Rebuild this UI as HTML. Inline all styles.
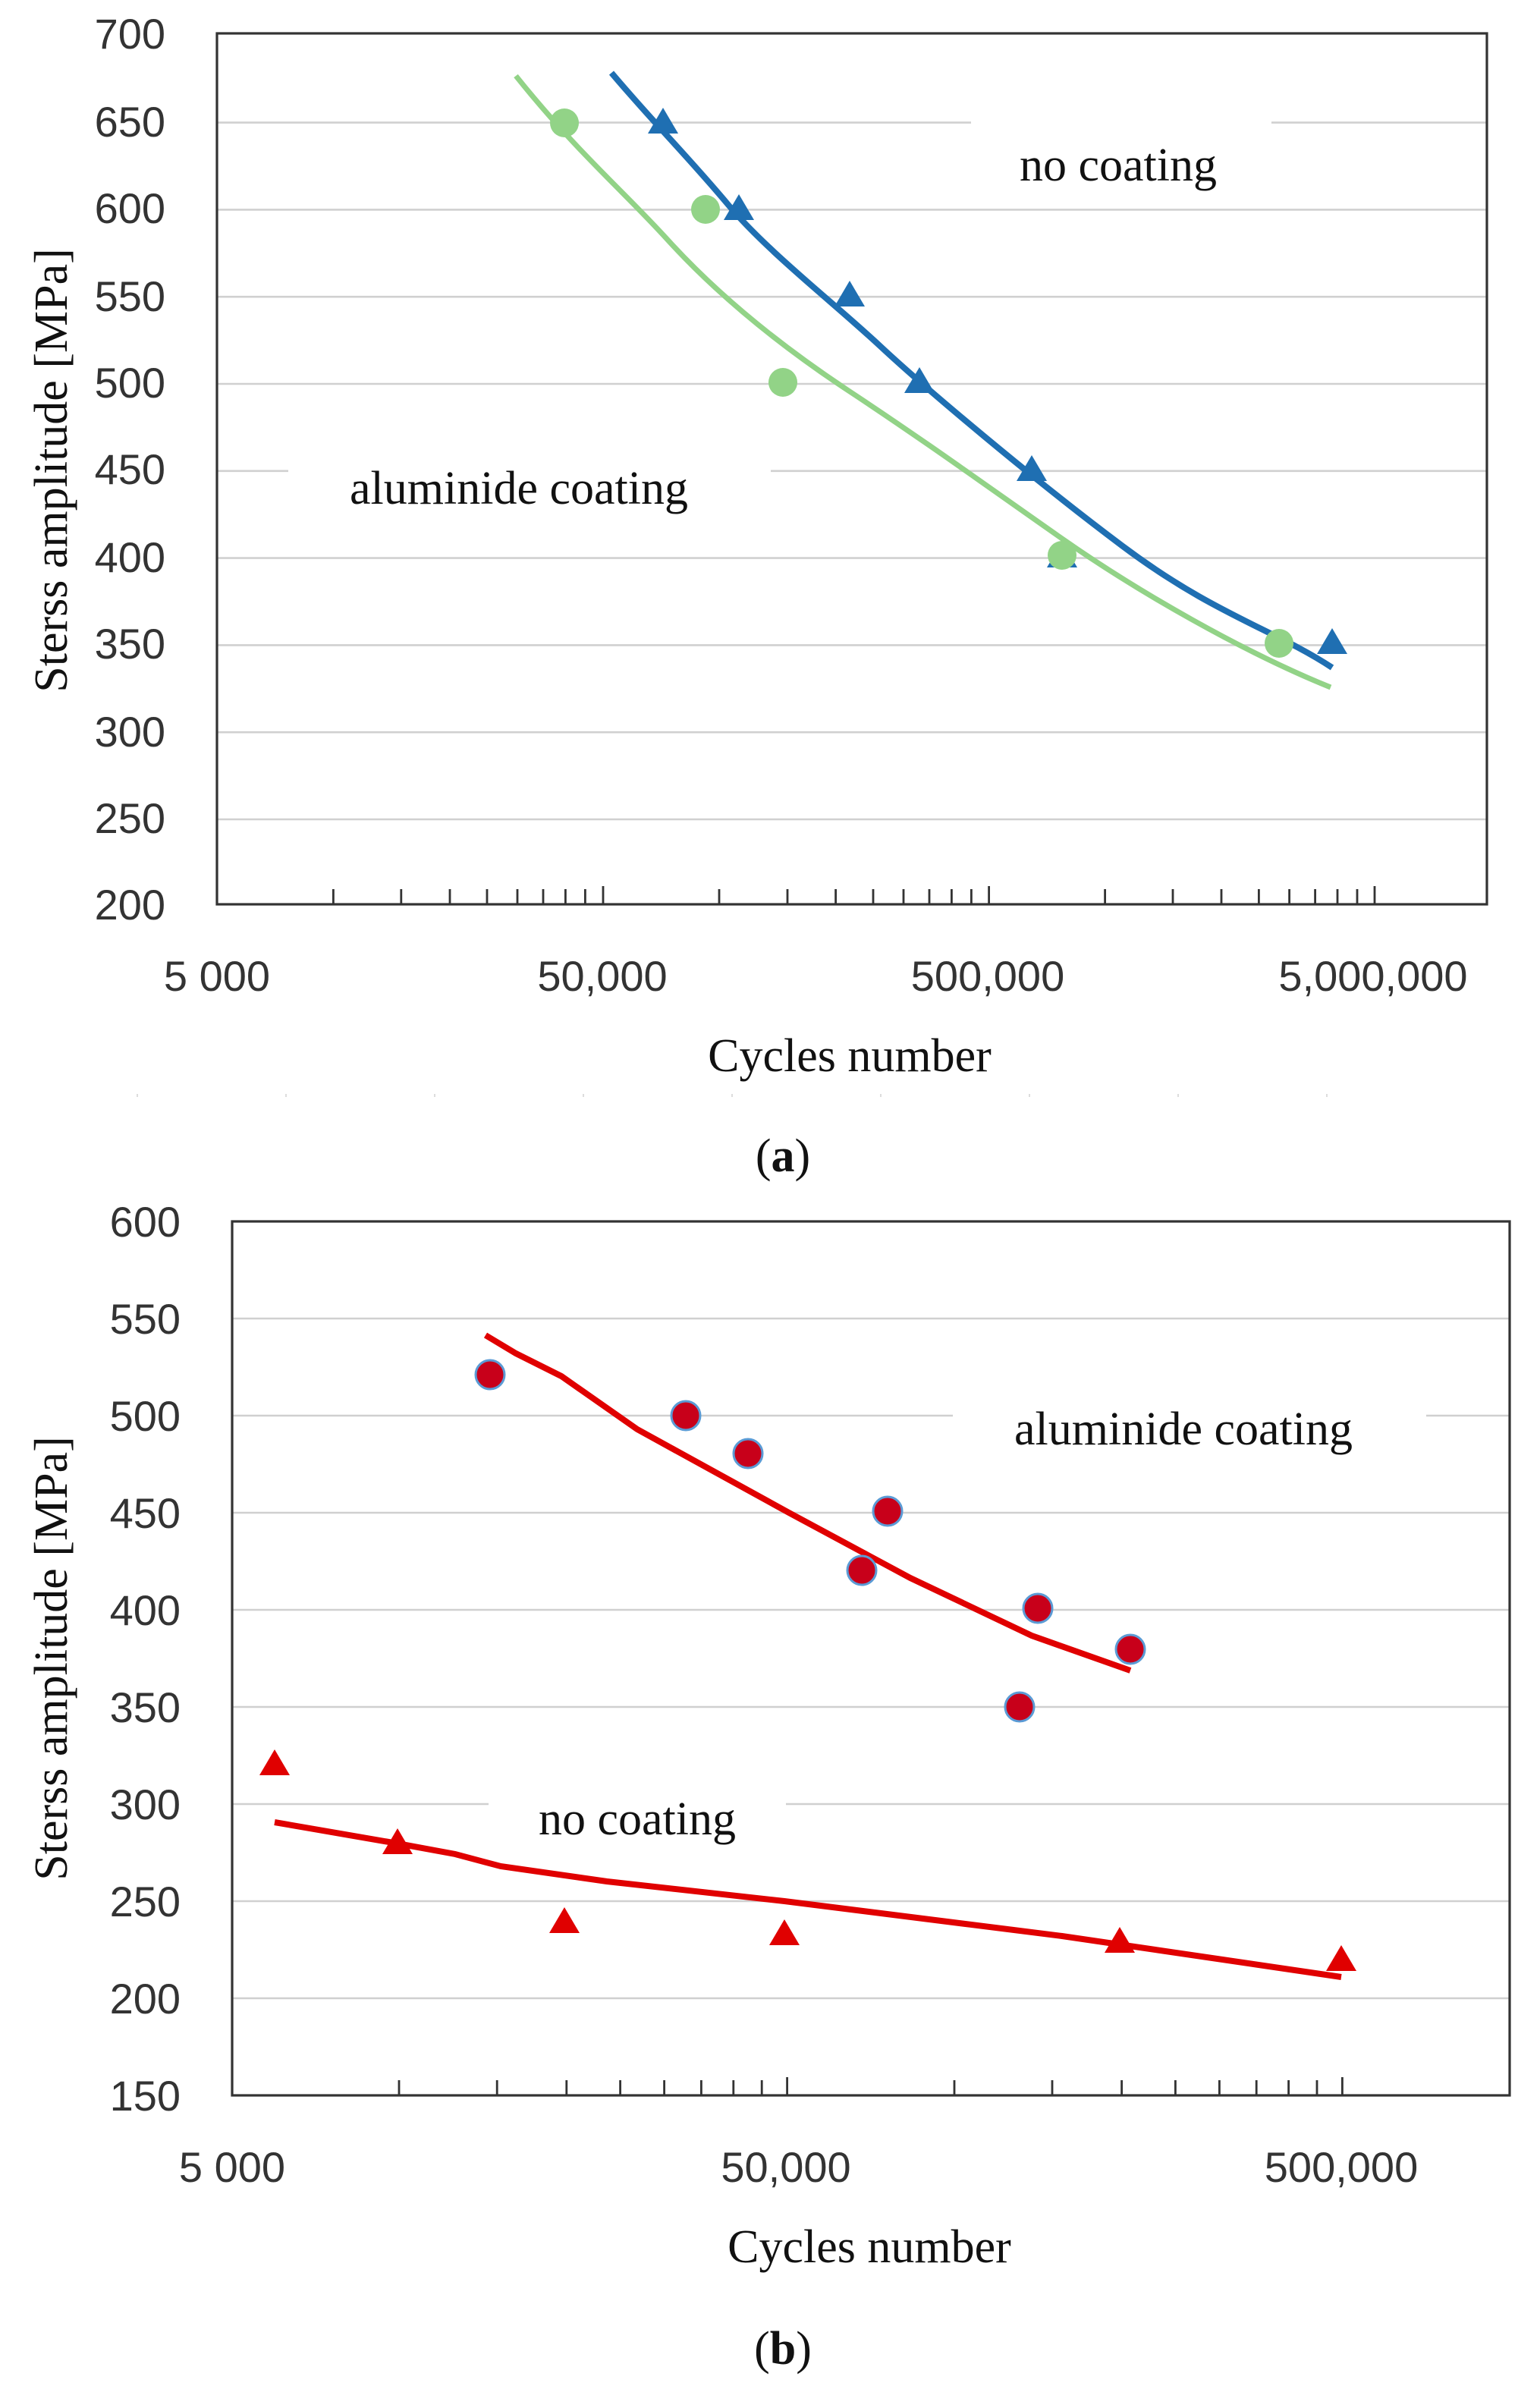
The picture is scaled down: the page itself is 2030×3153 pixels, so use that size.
<!DOCTYPE html>
<html><head><meta charset="utf-8"><style>
html,body{margin:0;padding:0;background:#fff;}
svg{display:block;}
.t{font-family:"Liberation Sans",sans-serif;font-size:28px;fill:#333;}
.s{font-family:"Liberation Serif",serif;font-size:31px;fill:#111;}
.g{stroke:#d0d0d0;stroke-width:1.3;}
</style></head><body>
<svg width="2030" height="3153" viewBox="0 0 1015 1576.5" xmlns="http://www.w3.org/2000/svg">
<!-- Chart A -->
<g>
<line class="g" x1="143" x2="980" y1="80.8" y2="80.8"/>
<line class="g" x1="143" x2="980" y1="138.2" y2="138.2"/>
<line class="g" x1="143" x2="980" y1="195.6" y2="195.6"/>
<line class="g" x1="143" x2="980" y1="253" y2="253"/>
<line class="g" x1="143" x2="980" y1="310.4" y2="310.4"/>
<line class="g" x1="143" x2="980" y1="367.8" y2="367.8"/>
<line class="g" x1="143" x2="980" y1="425.2" y2="425.2"/>
<line class="g" x1="143" x2="980" y1="482.6" y2="482.6"/>
<line class="g" x1="143" x2="980" y1="540" y2="540"/>
<rect x="143" y="22" width="837" height="574" fill="none" stroke="#333" stroke-width="1.6"/>
<g stroke="#333" stroke-width="1.4">
<line x1="219.7" x2="219.7" y1="596" y2="586"/><line x1="264.4" x2="264.4" y1="596" y2="586"/><line x1="296.5" x2="296.5" y1="596" y2="586"/><line x1="321" x2="321" y1="596" y2="586"/><line x1="341" x2="341" y1="596" y2="586"/><line x1="358" x2="358" y1="596" y2="586"/><line x1="372.7" x2="372.7" y1="596" y2="586"/><line x1="385.7" x2="385.7" y1="596" y2="586"/><line x1="397.5" x2="397.5" y1="596" y2="584"/>
<line x1="474" x2="474" y1="596" y2="586"/><line x1="519" x2="519" y1="596" y2="586"/><line x1="550.8" x2="550.8" y1="596" y2="586"/><line x1="575.5" x2="575.5" y1="596" y2="586"/><line x1="595.5" x2="595.5" y1="596" y2="586"/><line x1="612.5" x2="612.5" y1="596" y2="586"/><line x1="627.2" x2="627.2" y1="596" y2="586"/><line x1="640.2" x2="640.2" y1="596" y2="586"/><line x1="651.8" x2="651.8" y1="596" y2="584"/>
<line x1="728.3" x2="728.3" y1="596" y2="586"/><line x1="773" x2="773" y1="596" y2="586"/><line x1="805" x2="805" y1="596" y2="586"/><line x1="829.7" x2="829.7" y1="596" y2="586"/><line x1="849.8" x2="849.8" y1="596" y2="586"/><line x1="866.8" x2="866.8" y1="596" y2="586"/><line x1="881.5" x2="881.5" y1="596" y2="586"/><line x1="894.5" x2="894.5" y1="596" y2="586"/><line x1="906" x2="906" y1="596" y2="584"/>
</g>
<g class="t" text-anchor="end">
<text x="109" y="32">700</text><text x="109" y="90">650</text><text x="109" y="147">600</text><text x="109" y="205">550</text><text x="109" y="262">500</text><text x="109" y="319">450</text><text x="109" y="377">400</text><text x="109" y="434">350</text><text x="109" y="492">300</text><text x="109" y="549">250</text><text x="109" y="606">200</text>
</g>
<g class="t" text-anchor="middle">
<text x="143" y="653">5 000</text><text x="397" y="653">50,000</text><text x="651" y="653">500,000</text><text x="905" y="653">5,000,000</text>
</g>
<text class="s" x="560" y="706" text-anchor="middle">Cycles number</text>
<text class="s" transform="translate(44,310) rotate(-90)" text-anchor="middle">Sterss amplitude [MPa]</text>
<text class="s" x="516" y="772" text-anchor="middle">(<tspan font-weight="bold">a</tspan>)</text>
<rect x="190" y="298" width="318" height="42" fill="#fff"/>
<text class="s" x="342" y="332" text-anchor="middle">aluminide coating</text>
<rect x="640" y="68" width="198" height="42" fill="#fff"/>
<text class="s" x="737" y="119" text-anchor="middle">no coating</text>
<path d="M340,50 C380,100 410,125 440,158 S510,225 560,258 S650,320 700,355 S820,430 877,453" fill="none" stroke="#92d387" stroke-width="3.5"/>
<path d="M403,48 C430,80 455,105 480,135 S550,200 580,228 S680,315 740,360 S840,415 878,440" fill="none" stroke="#1f6fb2" stroke-width="4"/>
<g fill="#1f6fb2">
<path d="M437,71 l10,17 h-20z"/><path d="M487,128 l10,17 h-20z"/><path d="M560,185 l10,17 h-20z"/><path d="M606,242 l10,17 h-20z"/><path d="M680,300 l10,17 h-20z"/><path d="M700,357 l10,17 h-20z"/><path d="M878,414 l10,17 h-20z"/>
</g>
<g fill="#92d387">
<circle cx="372" cy="81" r="9.5"/><circle cx="465" cy="138" r="9.5"/><circle cx="516" cy="252" r="9.5"/><circle cx="700" cy="366" r="9.5"/><circle cx="843" cy="424" r="9.5"/>
</g>
<line x1="90" x2="940" y1="722" y2="722" stroke="#ddd" stroke-dasharray="1 97" stroke-width="2"/>
</g>
<!-- Chart B -->
<g>
<line class="g" x1="153" x2="995" y1="869" y2="869"/>
<line class="g" x1="153" x2="995" y1="933" y2="933"/>
<line class="g" x1="153" x2="995" y1="997" y2="997"/>
<line class="g" x1="153" x2="995" y1="1061" y2="1061"/>
<line class="g" x1="153" x2="995" y1="1125" y2="1125"/>
<line class="g" x1="153" x2="995" y1="1189" y2="1189"/>
<line class="g" x1="153" x2="995" y1="1253" y2="1253"/>
<line class="g" x1="153" x2="995" y1="1317" y2="1317"/>
<rect x="153" y="805" width="842" height="576" fill="none" stroke="#333" stroke-width="1.6"/>
<g stroke="#333" stroke-width="1.4">
<line x1="263" x2="263" y1="1381" y2="1371"/><line x1="327.6" x2="327.6" y1="1381" y2="1371"/><line x1="373.4" x2="373.4" y1="1381" y2="1371"/><line x1="408.8" x2="408.8" y1="1381" y2="1371"/><line x1="437.8" x2="437.8" y1="1381" y2="1371"/><line x1="462.2" x2="462.2" y1="1381" y2="1371"/><line x1="483.4" x2="483.4" y1="1381" y2="1371"/><line x1="502.1" x2="502.1" y1="1381" y2="1371"/><line x1="518.8" x2="518.8" y1="1381" y2="1369"/>
<line x1="629" x2="629" y1="1381" y2="1371"/><line x1="693.5" x2="693.5" y1="1381" y2="1371"/><line x1="739.3" x2="739.3" y1="1381" y2="1371"/><line x1="774.7" x2="774.7" y1="1381" y2="1371"/><line x1="803.7" x2="803.7" y1="1381" y2="1371"/><line x1="828.1" x2="828.1" y1="1381" y2="1371"/><line x1="849.3" x2="849.3" y1="1381" y2="1371"/><line x1="868" x2="868" y1="1381" y2="1371"/><line x1="884.7" x2="884.7" y1="1381" y2="1369"/>
</g>
<g class="t" text-anchor="end">
<text x="119" y="815">600</text><text x="119" y="879">550</text><text x="119" y="943">500</text><text x="119" y="1007">450</text><text x="119" y="1071">400</text><text x="119" y="1135">350</text><text x="119" y="1199">300</text><text x="119" y="1263">250</text><text x="119" y="1327">200</text><text x="119" y="1391">150</text>
</g>
<g class="t" text-anchor="middle">
<text x="153" y="1438">5 000</text><text x="518" y="1438">50,000</text><text x="884" y="1438">500,000</text>
</g>
<text class="s" x="573" y="1491" text-anchor="middle">Cycles number</text>
<text class="s" transform="translate(44,1093) rotate(-90)" text-anchor="middle">Sterss amplitude [MPa]</text>
<text class="s" x="516" y="1558" text-anchor="middle">(<tspan font-weight="bold">b</tspan>)</text>
<rect x="628" y="918" width="312" height="42" fill="#fff"/>
<text class="s" x="780" y="952" text-anchor="middle">aluminide coating</text>
<rect x="322" y="1176" width="196" height="42" fill="#fff"/>
<text class="s" x="420" y="1209" text-anchor="middle">no coating</text>
<path d="M320,880 L340,892 L370,907 L420,942 L520,997 L600,1040 L680,1078 L745,1101" fill="none" stroke="#e00000" stroke-width="4"/>
<path d="M181,1201 L262,1215 L300,1222 L330,1230 L400,1240 L517,1253 L700,1276 L884,1303" fill="none" stroke="#e00000" stroke-width="4"/>
<g fill="#c8001a" stroke="#5b9bd5" stroke-width="1.5">
<circle cx="323" cy="906" r="9.5"/><circle cx="452" cy="933" r="9.5"/><circle cx="493" cy="958" r="9.5"/><circle cx="585" cy="996" r="9.5"/><circle cx="568" cy="1035" r="9.5"/><circle cx="684" cy="1060" r="9.5"/><circle cx="672" cy="1125" r="9.5"/><circle cx="745" cy="1087" r="9.5"/>
</g>
<g fill="#e00000">
<path d="M181,1153 l10,17 h-20z"/><path d="M262,1205 l10,17 h-20z"/><path d="M372,1257 l10,17 h-20z"/><path d="M517,1265 l10,17 h-20z"/><path d="M738,1270 l10,17 h-20z"/><path d="M884,1282 l10,17 h-20z"/>
</g>
</g>
</svg>
</body></html>
